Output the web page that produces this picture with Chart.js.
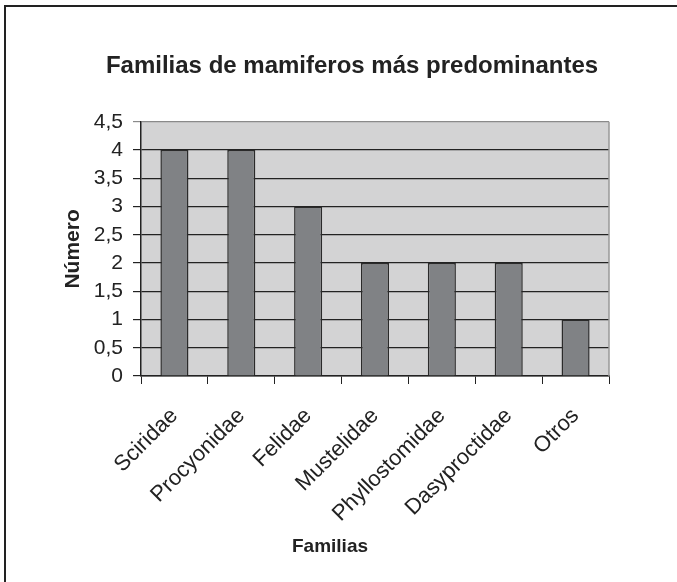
<!DOCTYPE html>
<html>
<head>
<meta charset="utf-8">
<script src="https://cdn.jsdelivr.net/npm/chart.js@4/dist/chart.umd.min.js"></script>
<style>
  html, body { margin: 0; padding: 0; background: #fff; }
  #wrap { width: 677px; height: 582px; }
</style>
</head>
<body>
<div id="wrap"><canvas id="famChart" width="677" height="582"></canvas></div>
<script>
// data
const familias = ['Sciridae', 'Procyonidae', 'Felidae', 'Mustelidae', 'Phyllostomidae', 'Dasyproctidae', 'Otros'];
const numero = [4, 4, 3, 2, 2, 2, 1];
const yTicks = [0, 0.5, 1, 1.5, 2, 2.5, 3, 3.5, 4, 4.5];

const FONT = "'Liberation Sans', Arial, sans-serif";

// grey plot background, outer frame and x title
const paintPlugin = {
    id: 'paint',
    beforeDraw(chart) {
        const ctx = chart.ctx;
        const a = chart.chartArea;
        ctx.save();
        ctx.fillStyle = '#d3d3d4';
        ctx.fillRect(a.left, a.top, a.right - a.left, a.bottom - a.top);
        ctx.strokeStyle = '#222';
        ctx.lineWidth = 2;
        ctx.beginPath();
        ctx.moveTo(5, 582);
        ctx.lineTo(5, 6);
        ctx.lineTo(677, 6);
        ctx.stroke();
        ctx.restore();
    },
    afterDraw(chart) {
        const ctx = chart.ctx;
        const a = chart.chartArea;
        ctx.save();
        ctx.strokeStyle = '#999';
        ctx.lineWidth = 1.5;
        ctx.beginPath();
        ctx.moveTo(a.right, a.top);
        ctx.lineTo(a.right, a.bottom);
        ctx.stroke();
        ctx.fillStyle = '#222';
        ctx.font = 'bold 19px ' + FONT;
        ctx.textAlign = 'center';
        ctx.textBaseline = 'middle';
        ctx.fillText('Familias', 330, 547);
        ctx.restore();
    }
};

new Chart(document.getElementById('famChart').getContext('2d'), {
    type: 'bar',
    data: {
        labels: familias,
        datasets: [{
            label: 'Número',
            data: numero,
            backgroundColor: '#808285',
            borderColor: '#2a2a2a',
            borderWidth: 1.5,
            categoryPercentage: 1,
            barPercentage: 0.42
        }]
    },
    options: {
        responsive: false,
        animation: false,
        layout: { padding: { left: 27, right: 0, top: 0, bottom: 0 } },
        plugins: {
            legend: { display: false },
            tooltip: { enabled: false },
            title: {
                display: true,
                text: 'Familias de mamiferos más predominantes',
                color: '#222',
                font: { family: FONT, size: 24, weight: 'bold' },
                padding: { top: 52, bottom: 41 }
            }
        },
        scales: {
            x: {
                offset: true,
                grid: {
                    offset: true,
                    drawOnChartArea: false,
                    tickLength: 8,
                    color: '#222',
                    lineWidth: 1
                },
                border: { color: '#222', width: 1.5 },
                ticks: {
                    color: '#222',
                    font: { family: FONT, size: 22 },
                    minRotation: 45,
                    maxRotation: 45,
                    padding: 19
                },
                afterFit(s) { s.height = 206; }
            },
            y: {
                min: 0,
                max: 4.5,
                afterBuildTicks(s) { s.ticks = yTicks.map(v => ({ value: v })); },
                grid: {
                    color: ctx => (ctx.tick && ctx.tick.value === 4.5 ? '#8a8a8a' : '#222'),
                    lineWidth: 1.2,
                    tickLength: 8
                },
                border: { color: '#222', width: 1.5 },
                ticks: {
                    color: '#222',
                    padding: 10,
                    font: { family: FONT, size: 21 },
                    callback: v => String(v).replace('.', ',')
                },
                title: {
                    display: true,
                    text: 'Número',
                    color: '#222',
                    font: { family: FONT, size: 21, weight: 'bold' },
                    padding: { top: 34, bottom: 0 }
                },
                afterFit(s) { s.width = 114; }
            },
            y2: {
                position: 'right',
                display: true,
                grid: { display: false },
                border: { display: false },
                ticks: { display: false },
                afterFit(s) { s.width = 68; }
            }
        }
    },
    plugins: [paintPlugin]
});
</script>
</body>
</html>
